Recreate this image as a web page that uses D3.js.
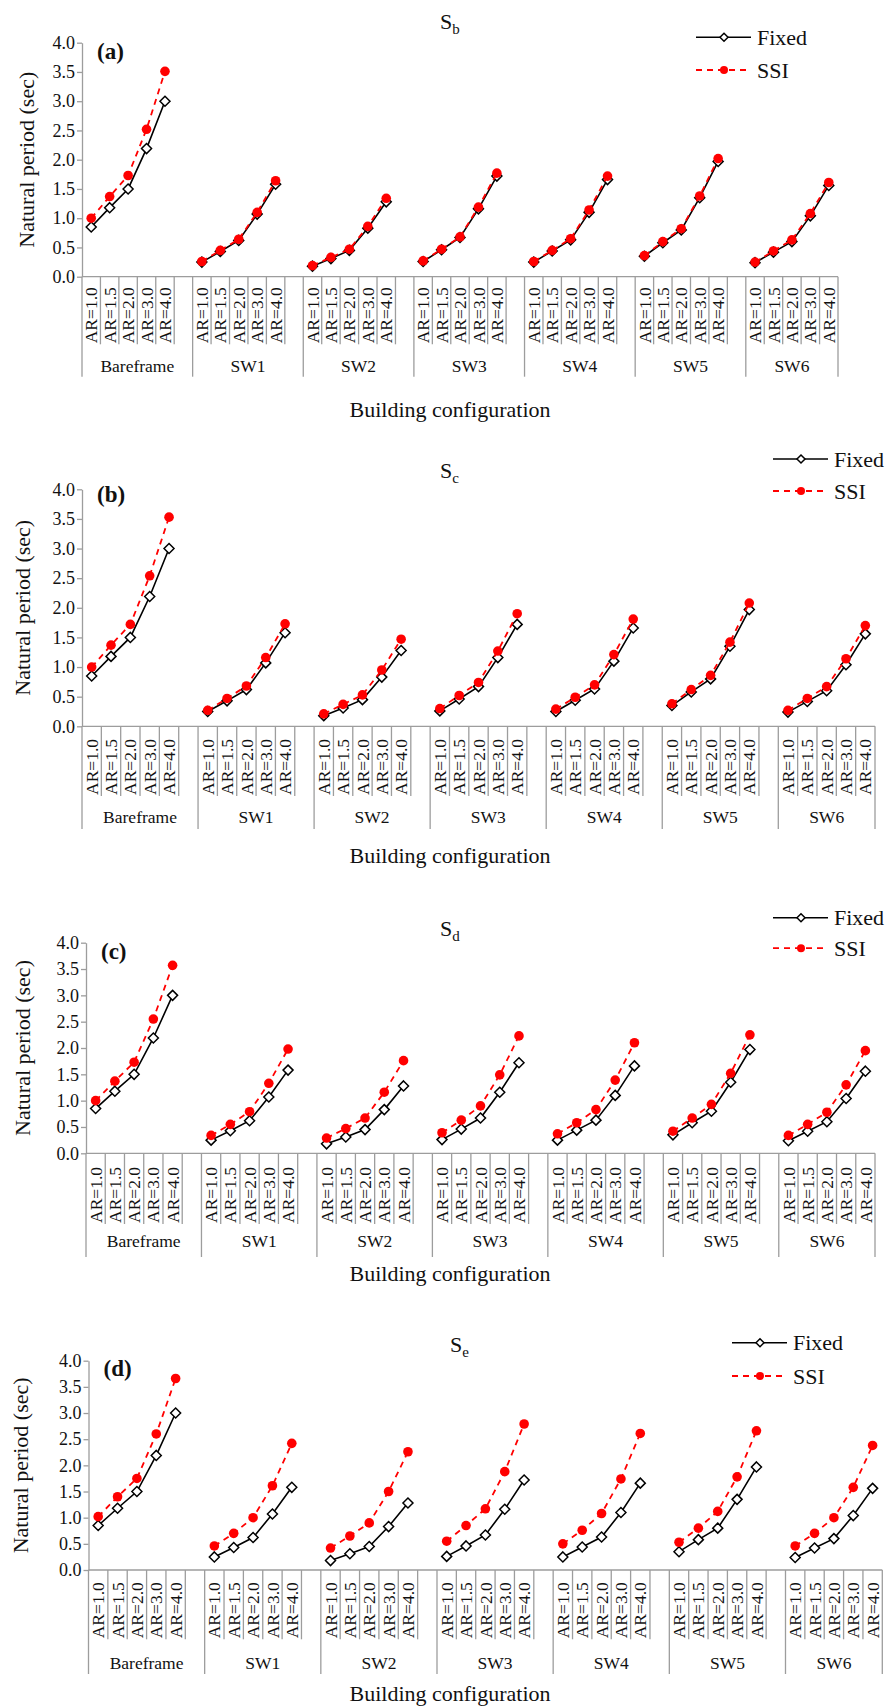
<!DOCTYPE html>
<html>
<head>
<meta charset="utf-8">
<script src="https://cdn.jsdelivr.net/npm/d3@7/dist/d3.min.js"></script>
<style>
  body { margin: 0; background: #fff; }
  svg { display: block; }
  svg text { font-family: "Liberation Serif", "Times New Roman", serif; fill: #111; }
</style>
</head>
<body>
<div id="chart"></div>
<script>
const groups = ["Bareframe", "SW1", "SW2", "SW3", "SW4", "SW5", "SW6"];
const ratios = ["AR=1.0", "AR=1.5", "AR=2.0", "AR=3.0", "AR=4.0"];
const yTicks = [0, 0.5, 1.0, 1.5, 2.0, 2.5, 3.0, 3.5, 4.0];
const panelLetters = ["(a)", "(b)", "(c)", "(d)"];
const soilClasses = ["b", "c", "d", "e"];
const seriesNames = ["Fixed", "SSI"];

// fixed base periods, same for every soil class
const fixedPeriod = [
  [0.85, 1.18, 1.50, 2.19, 3.00],
  [0.25, 0.43, 0.62, 1.07, 1.58],
  [0.18, 0.31, 0.45, 0.83, 1.28],
  [0.26, 0.46, 0.67, 1.16, 1.72],
  [0.25, 0.44, 0.63, 1.10, 1.66],
  [0.35, 0.58, 0.80, 1.35, 1.97],
  [0.24, 0.42, 0.60, 1.04, 1.56]
];
const ssiSb = [
  [1.00, 1.37, 1.73, 2.52, 3.51],
  [0.26, 0.45, 0.64, 1.10, 1.64],
  [0.19, 0.33, 0.47, 0.86, 1.34],
  [0.27, 0.47, 0.68, 1.19, 1.77],
  [0.26, 0.45, 0.65, 1.14, 1.72],
  [0.36, 0.60, 0.82, 1.38, 2.02],
  [0.25, 0.44, 0.63, 1.08, 1.61]
];
const ssiSc = [
  [1.00, 1.37, 1.72, 2.54, 3.53],
  [0.27, 0.47, 0.68, 1.16, 1.73],
  [0.21, 0.37, 0.53, 0.95, 1.47],
  [0.30, 0.52, 0.74, 1.27, 1.90],
  [0.29, 0.49, 0.70, 1.21, 1.81],
  [0.38, 0.62, 0.86, 1.42, 2.08],
  [0.27, 0.47, 0.67, 1.14, 1.70]
];
const ssiSd = [
  [1.00, 1.37, 1.73, 2.55, 3.57],
  [0.34, 0.55, 0.79, 1.33, 1.98],
  [0.29, 0.47, 0.67, 1.16, 1.76],
  [0.39, 0.63, 0.90, 1.49, 2.23],
  [0.37, 0.58, 0.83, 1.39, 2.10],
  [0.42, 0.67, 0.93, 1.52, 2.25],
  [0.34, 0.55, 0.78, 1.30, 1.95]
];
const ssiSe = [
  [1.02, 1.40, 1.75, 2.60, 3.66],
  [0.46, 0.70, 1.00, 1.61, 2.42],
  [0.42, 0.65, 0.90, 1.50, 2.26],
  [0.55, 0.85, 1.17, 1.88, 2.79],
  [0.50, 0.76, 1.08, 1.74, 2.61],
  [0.53, 0.80, 1.12, 1.78, 2.66],
  [0.46, 0.70, 1.00, 1.58, 2.38]
];
const ssiPeriods = [ssiSb, ssiSc, ssiSd, ssiSe];

// page layout of the four stacked panels
const layout = [
  { x0: 82, x1: 838, yTop: 42.7, yBot: 276.7, arBot: 344.3, grpBot: 376.7, grpY: 372, xTitleY: 417, yTitleX: 26,
    titleX: 440, titleY: 29, letterY: 59, legX: 696, legY: 37.3, legGap: 32.7 },
  { x0: 82, x1: 875, yTop: 489.3, yBot: 726.3, arBot: 796, grpBot: 829, grpY: 822.5, xTitleY: 863, yTitleX: 22,
    titleX: 440, titleY: 478, letterY: 501.5, legX: 773, legY: 459, legGap: 32 },
  { x0: 86, x1: 875, yTop: 942.7, yBot: 1153.3, arBot: 1224, grpBot: 1257, grpY: 1247, xTitleY: 1281, yTitleX: 22,
    titleX: 440, titleY: 936, letterY: 959, legX: 773, legY: 917.7, legGap: 30.5 },
  { x0: 88.5, x1: 882.3, yTop: 1360.7, yBot: 1570, arBot: 1639.3, grpBot: 1674, grpY: 1668.5, xTitleY: 1700.5, yTitleX: 20,
    titleX: 450, titleY: 1352, letterY: 1376, legX: 732, legY: 1342.7, legGap: 33.3 }
];

const width = 885, height = 1707;
const axisColor = "#9d9d9d";

const svg = d3.select("#chart").append("svg")
  .attr("width", width).attr("height", height)
  .attr("viewBox", `0 0 ${width} ${height}`);

// slots: five ratios per group plus an empty slot between groups
const slots = [];
groups.forEach((g, gi) => {
  ratios.forEach(r => slots.push({ key: `${g}|${r}`, group: g, ratio: r }));
  if (gi < groups.length - 1) slots.push({ key: `${g}|gap`, group: g, ratio: null });
});

const diamond = "M0,-5L5,0L0,5L-5,0Z";

layout.forEach((L, pi) => {
  const g = svg.append("g").attr("class", "panel");

  const x = d3.scaleBand().domain(slots.map(s => s.key)).range([L.x0, L.x1]).padding(0);
  const y = d3.scaleLinear().domain([0, 4]).range([L.yBot, L.yTop]);
  const cx = (gi, ri) => x(`${groups[gi]}|${ratios[ri]}`) + x.bandwidth() / 2;

  // y axis
  const yAxis = g.append("g")
    .attr("transform", `translate(${L.x0},0)`)
    .call(d3.axisLeft(y).tickValues(yTicks).tickFormat(d3.format(".1f")).tickSize(5).tickSizeOuter(0).tickPadding(2));
  yAxis.select(".domain").attr("stroke", axisColor).attr("stroke-width", 1.3);
  yAxis.selectAll(".tick line").attr("stroke", axisColor).attr("stroke-width", 1.3);
  yAxis.selectAll(".tick text").attr("font-size", 18);

  // x axis: baseline plus category separators
  const xg = g.append("g");
  xg.append("line").attr("x1", L.x0).attr("x2", L.x1).attr("y1", L.yBot).attr("y2", L.yBot)
    .attr("stroke", axisColor).attr("stroke-width", 1.3);

  const bounds = slots.map((s, i) => ({
    x: x(s.key),
    isGroup: i === 0 || slots[i - 1].group !== s.group
  }));
  bounds.push({ x: L.x1, isGroup: true });
  xg.selectAll("line.sep").data(bounds).enter().append("line")
    .attr("class", "sep")
    .attr("x1", d => d.x).attr("x2", d => d.x)
    .attr("y1", L.yBot).attr("y2", d => d.isGroup ? L.grpBot : L.arBot)
    .attr("stroke", axisColor).attr("stroke-width", 1.3);

  xg.selectAll("text.ar").data(slots.filter(s => s.ratio)).enter().append("text")
    .attr("class", "ar")
    .attr("transform", d => `translate(${x(d.key) + x.bandwidth() / 2},${L.arBot - 1}) rotate(-90)`)
    .attr("dy", "0.35em")
    .attr("font-size", 17.5)
    .text(d => d.ratio);

  xg.selectAll("text.grp").data(groups).enter().append("text")
    .attr("class", "grp")
    .attr("x", (d, gi) => {
      const a = x(`${d}|${ratios[0]}`);
      const b = gi < groups.length - 1 ? x(`${d}|gap`) + x.bandwidth() : L.x1;
      return (a + b) / 2;
    })
    .attr("y", L.grpY)
    .attr("text-anchor", "middle")
    .attr("font-size", 17.5)
    .text(d => d);

  // titles
  g.append("text").attr("x", 450).attr("y", L.xTitleY).attr("text-anchor", "middle")
    .attr("font-size", 22).text("Building configuration");

  g.append("text")
    .attr("transform", `translate(${L.yTitleX},${(L.yTop + L.yBot) / 2}) rotate(-90)`)
    .attr("text-anchor", "middle").attr("dy", "0.35em")
    .attr("font-size", 22).text("Natural period (sec)");

  const t = g.append("text").attr("x", L.titleX).attr("y", L.titleY).attr("font-size", 22);
  t.append("tspan").text("S");
  t.append("tspan").attr("font-size", 15).attr("dy", 5).text(soilClasses[pi]);

  g.append("text").attr("x", L.x0 + 15).attr("y", L.letterY)
    .attr("font-size", 23).attr("font-weight", "bold").text(panelLetters[pi]);

  // series
  const line = d3.line().x(d => d.x).y(d => y(d.v));
  const ssi = ssiPeriods[pi];

  groups.forEach((grp, gi) => {
    const fixedPts = fixedPeriod[gi].map((v, ri) => ({ x: cx(gi, ri), v }));
    const ssiPts = ssi[gi].map((v, ri) => ({ x: cx(gi, ri), v }));

    g.append("path").datum(fixedPts).attr("d", line)
      .attr("fill", "none").attr("stroke", "#000").attr("stroke-width", 1.6);
    g.selectAll(null).data(fixedPts).enter().append("path")
      .attr("d", diamond)
      .attr("transform", d => `translate(${d.x},${y(d.v)})`)
      .attr("fill", "#fff").attr("stroke", "#000").attr("stroke-width", 1.5);

    g.append("path").datum(ssiPts).attr("d", line)
      .attr("fill", "none").attr("stroke", "#ff0000").attr("stroke-width", 1.8)
      .attr("stroke-dasharray", "6,5");
    g.selectAll(null).data(ssiPts).enter().append("circle")
      .attr("cx", d => d.x).attr("cy", d => y(d.v)).attr("r", 4.8)
      .attr("fill", "#ff0000");
  });

  // legend
  const leg = g.append("g").attr("transform", `translate(${L.legX},${L.legY})`);
  seriesNames.forEach((name, i) => {
    const row = leg.append("g").attr("transform", `translate(0,${i * L.legGap})`);
    if (i === 0) {
      row.append("line").attr("x1", 0).attr("x2", 55).attr("stroke", "#000").attr("stroke-width", 1.6);
      row.append("path").attr("d", "M0,-4L4,0L0,4L-4,0Z").attr("transform", "translate(28,0)")
        .attr("fill", "#fff").attr("stroke", "#000").attr("stroke-width", 1.5);
    } else {
      row.append("line").attr("x1", 0).attr("x2", 55).attr("stroke", "#ff0000").attr("stroke-width", 1.8)
        .attr("stroke-dasharray", "6,5");
      row.append("circle").attr("cx", 28).attr("r", 4).attr("fill", "#ff0000");
    }
    row.append("text").attr("x", 61).attr("dy", "0.35em").attr("font-size", 22).text(name);
  });
});
</script>
</body>
</html>
